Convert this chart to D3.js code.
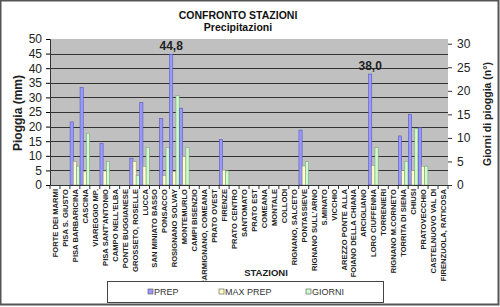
<!DOCTYPE html>
<html>
<head>
<meta charset="utf-8">
<script src="https://cdn.jsdelivr.net/npm/d3@7"></script>
<style>
  body { margin: 0; background: #fff; }
  text { font-family: "Liberation Sans", Arial, sans-serif; }
</style>
</head>
<body>
<svg id="chart" width="500" height="307"></svg>
<script>
// stations on the x axis
var stations = ["FORTE DEI MARMI", "PISA S. GIUSTO", "PISA BARBARICINA", "CASCINA", "VIAREGGIO MP.",
    "PISA SANT'ANTONIO", "CAMPO NELL'ELBA", "PONTE BUGGIANESE", "GROSSETO, ROSELLE", "LUCCA",
    "SAN MINIATO BASSO", "PONSACCO", "ROSIGNANO SOLVAY", "MONTEMURLO", "CAMPI BISENZIO",
    "CARMIGNANO, COMEANA", "PRATO OVEST", "FIRENZE", "PRATO CENTRO", "SANTOMATO",
    "PRATO EST", "COMEANA", "MONTALE", "COLLODI", "RIGNANO, SALCETO",
    "PONTASSIEVE", "RIGNANO SULL'ARNO", "S.MINATO", "VICCHIO", "AREZZO PONTE ALLA",
    "FOIANO DELLA CHIANA", "ARCIGLIANO", "LORO CIUFFENNA", "TORRENIERI", "RIGNANO M.CORNETO",
    "TORRITA DI SIENA", "CHIUSI", "PRATOVECCHIO", "CASTELNUOVO VAL DI", "FIRENZUOLA, RATICOSA"];

var series = ["PREP", "MAX PREP", "GIORNI"];

// mm (left axis)
var prep = [null, null, 21.6, 33.4, null, 14.3, null, null, 9.2, 28.3,
    null, 22.8, 44.8, 26.3, null, null, null, 15.6, null, null,
    null, null, null, null, null, 18.8, null, null, null, null,
    null, null, 38.0, null, null, 16.8, 24.1, 19.6, null, null];

var maxPrep = [null, null, 8.0, 4.7, null, 4.8, null, null, 8.0, 6.4,
    null, 3.2, 4.6, 9.8, null, null, null, 5.1, null, null,
    null, null, null, null, null, 6.5, null, null, null, null,
    null, null, 6.6, null, null, 4.9, 5.0, 6.4, null, null];

// days (right axis)
var giorni = [null, null, 4, 11, null, 5, null, null, 2, 8,
    null, 8, 19, 8, null, null, null, 3, null, null,
    null, null, null, null, null, 5, null, null, null, null,
    null, null, 8, null, null, 5, 12, 4, null, null];

var leftTicks = [0, 5, 10, 15, 20, 25, 30, 35, 40, 45, 50];
var rightTicks = [0, 5, 10, 15, 20, 25, 30];
var labelled = [12, 32]; // bars with data label

var colors = { "PREP": "#9999FF", "MAX PREP": "#FFFFCC", "GIORNI": "#CCFFCC" };
var strokes = { "PREP": "#5858B8", "MAX PREP": "#9a9a80", "GIORNI": "#80a080" };

var svg = d3.select("#chart");
var pLeft = 50, pRight = 448, pTop = 39, pBottom = 185;

var x = d3.scaleBand().domain(stations).range([pLeft, pRight]).paddingInner(0.04).paddingOuter(0.02);
var xs = d3.scaleBand().domain(series).range([0, x.bandwidth()]);
var yL = d3.scaleLinear().domain([0, 50]).range([pBottom, pTop]);
var yR = d3.scaleLinear().domain([0, 31]).range([pBottom, pTop]);
var xFull = d3.scaleBand().domain(stations).range([pLeft, pRight]);

// frame
svg.append("rect").attr("x", 0.5).attr("y", 0.5).attr("width", 498).attr("height", 304)
    .attr("fill", "#fff").attr("stroke", "#555").attr("stroke-width", 2);

// plot area
svg.append("rect").attr("x", pLeft).attr("y", pTop).attr("width", pRight - pLeft).attr("height", pBottom - pTop)
    .attr("fill", "#C0C0C0");

svg.append("g").selectAll("line").data(leftTicks.filter(function (d) { return d > 0 && d < 50; }))
    .enter().append("line")
    .attr("x1", pLeft).attr("x2", pRight)
    .attr("y1", function (d) { return Math.round(yL(d)) + 0.5; })
    .attr("y2", function (d) { return Math.round(yL(d)) + 0.5; })
    .attr("stroke", "#333").attr("stroke-width", 1);

// bars
var rows = stations.map(function (s, i) {
    return [
        { st: s, k: "PREP", v: prep[i], y: yL },
        { st: s, k: "MAX PREP", v: maxPrep[i], y: yL },
        { st: s, k: "GIORNI", v: giorni[i], y: yR }
    ];
});
var flat = [].concat.apply([], rows).filter(function (d) { return d.v != null; });

svg.append("g").selectAll("rect").data(flat).enter().append("rect")
    .attr("x", function (d) { return x(d.st) + xs(d.k); })
    .attr("width", xs.bandwidth())
    .attr("y", function (d) { return d.y(d.v); })
    .attr("height", function (d) { return pBottom - d.y(d.v); })
    .attr("fill", function (d) { return colors[d.k]; })
    .attr("stroke", function (d) { return strokes[d.k]; })
    .attr("stroke-width", 0.6);

// data labels
svg.append("g").selectAll("text").data(labelled).enter().append("text")
    .attr("x", function (i) { return x(stations[i]) + xs("PREP") + xs.bandwidth() / 2; })
    .attr("y", function (i) { return yL(prep[i]) - 4; })
    .attr("text-anchor", "middle")
    .attr("font-size", 12).attr("font-weight", "bold").attr("fill", "#222")
    .text(function (i) { return prep[i].toFixed(1).replace(".", ","); });

// left axis
var axL = svg.append("g").attr("transform", "translate(" + pLeft + ",0)")
    .call(d3.axisLeft(yL).tickValues(leftTicks).tickSize(4).tickPadding(4));
axL.select(".domain").attr("stroke", "#333");
axL.selectAll("text").attr("font-size", 12).attr("fill", "#222");

// right axis
var axR = svg.append("g").attr("transform", "translate(" + pRight + ",0)")
    .call(d3.axisRight(yR).tickValues(rightTicks).tickSize(4).tickPadding(5));
axR.select(".domain").remove();
axR.selectAll("line").attr("stroke", "#333");
axR.selectAll("text").attr("font-size", 12).attr("fill", "#222");

// bottom axis
svg.append("line").attr("x1", pLeft).attr("x2", pRight).attr("y1", pBottom + 0.5).attr("y2", pBottom + 0.5)
    .attr("stroke", "#333");
svg.append("g").selectAll("line").data(stations.concat(["end"])).enter().append("line")
    .attr("x1", function (d, i) { return pLeft + i * xFull.step(); })
    .attr("x2", function (d, i) { return pLeft + i * xFull.step(); })
    .attr("y1", pBottom).attr("y2", pBottom + 4).attr("stroke", "#333");

svg.append("g").selectAll("text").data(stations).enter().append("text")
    .attr("transform", function (d) {
        return "translate(" + (xFull(d) + xFull.bandwidth() / 2 + 3) + "," + (pBottom + 4) + ") rotate(-90)";
    })
    .attr("text-anchor", "end")
    .attr("font-size", 7.6).attr("font-weight", "bold").attr("fill", "#222")
    .text(function (d) { return d; });

// titles
svg.append("text").attr("x", 238).attr("y", 19).attr("text-anchor", "middle")
    .attr("font-size", 10.5).attr("font-weight", "bold").attr("fill", "#111").text("CONFRONTO STAZIONI");
svg.append("text").attr("x", 238).attr("y", 31).attr("text-anchor", "middle")
    .attr("font-size", 10.5).attr("font-weight", "bold").attr("fill", "#111").text("Precipitazioni");

svg.append("text").attr("transform", "translate(22,113) rotate(-90)").attr("text-anchor", "middle")
    .attr("font-size", 12).attr("font-weight", "bold").attr("fill", "#222").text("Pioggia (mm)");
svg.append("text").attr("transform", "translate(491,114) rotate(-90)").attr("text-anchor", "middle")
    .attr("font-size", 10.5).attr("font-weight", "bold").attr("fill", "#222").text("Giorni di pioggia (n°)");
svg.append("text").attr("x", 266).attr("y", 276).attr("text-anchor", "middle")
    .attr("font-size", 9.5).attr("font-weight", "bold").attr("fill", "#222").text("STAZIONI");

// legend
var lg = svg.append("g");
lg.append("rect").attr("x", 107.5).attr("y", 281.5).attr("width", 276).attr("height", 21)
    .attr("fill", "#fff").attr("stroke", "#444");
var legX = [148, 219, 306];
var items = lg.selectAll("g").data(series).enter().append("g")
    .attr("transform", function (d, i) { return "translate(" + legX[i] + ",292)"; });
items.append("rect").attr("x", 0).attr("y", -3).attr("width", 5).attr("height", 5)
    .attr("fill", function (d) { return colors[d]; }).attr("stroke", "#555").attr("stroke-width", 0.6);
items.append("text").attr("x", 6).attr("y", 3).attr("font-size", 9).attr("fill", "#333")
    .text(function (d) { return d; });
</script>
</body>
</html>
